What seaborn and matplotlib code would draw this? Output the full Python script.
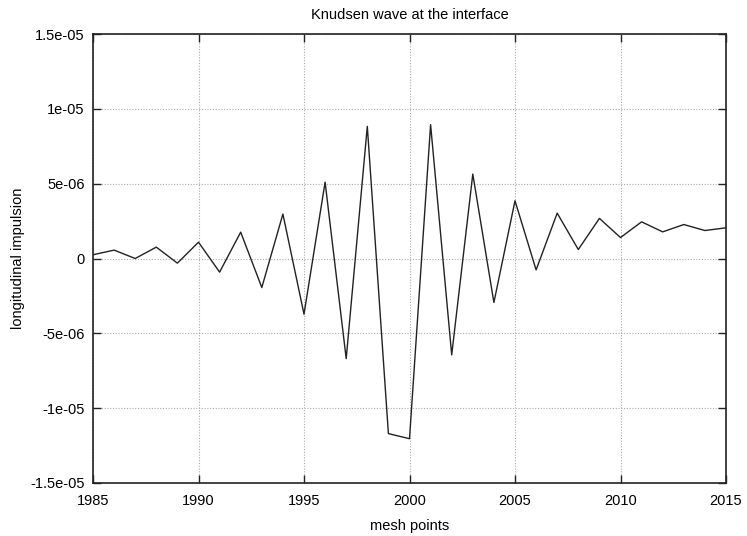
import matplotlib
matplotlib.use("Agg")
import matplotlib.pyplot as plt
import seaborn as sns
import pandas as pd
import numpy as np

mesh_points = list(range(1985, 2016))
impulsion = [0.25e-6, 0.56e-6, 0.0, 0.76e-6, -0.31e-6, 1.09e-6, -0.91e-6, 1.76e-6,
             -1.94e-6, 2.97e-6, -3.72e-6, 5.10e-6, -6.69e-6, 8.83e-6, -11.70e-6,
             -12.04e-6, 8.94e-6, -6.44e-6, 5.64e-6, -2.94e-6, 3.86e-6, -0.76e-6,
             3.03e-6, 0.60e-6, 2.68e-6, 1.40e-6, 2.45e-6, 1.78e-6, 2.27e-6, 1.87e-6, 2.05e-6]
x_ticks = [1985, 1990, 1995, 2000, 2005, 2010, 2015]
y_ticks = [-1.5e-05, -1e-05, -5e-06, 0, 5e-06, 1e-05, 1.5e-05]
y_tick_labels = ["-1.5e-05", "-1e-05", "-5e-06", "0", "5e-06", "1e-05", "1.5e-05"]

sns.set_theme(style="white")
plt.rcParams['font.family'] = ['Liberation Sans', 'DejaVu Sans']

df = pd.DataFrame({"mesh points": mesh_points, "longitudinal impulsion": impulsion})

fig = plt.figure(figsize=(7.47, 5.36), dpi=100)
ax = fig.add_axes([93/747, 1-483/536, 633/747, 449/536])
sns.lineplot(data=df, x="mesh points", y="longitudinal impulsion", ax=ax,
             color="#222222", linewidth=1.0)

ax.set_xlim(1985, 2015)
ax.set_ylim(-1.5e-05, 1.5e-05)
ax.set_xticks(x_ticks)
ax.set_xticklabels([str(t) for t in x_ticks])
ax.set_yticks(y_ticks)
ax.set_yticklabels(y_tick_labels)
ax.grid(True, color="#aaaaaa", linestyle=(0, (1, 1.5)), linewidth=0.8)
for s in ax.spines.values():
    s.set_color("#222222")
    s.set_linewidth(1.2)
ax.tick_params(direction="in", length=6, width=1, color="#222222",
               top=True, right=True, bottom=True, left=True,
               labelsize=10.5, labelcolor="black")
ax.tick_params(axis="x", pad=8)
ax.tick_params(axis="y", pad=6)
ax.set_xlabel("mesh points", fontsize=10.5, labelpad=8, color="black")
ax.set_ylabel("longitudinal impulsion", fontsize=10.5, labelpad=4, color="black")
ax.set_title("Knudsen wave at the interface", fontsize=10.5, pad=11, color="black")

fig.savefig("out.png", dpi=100)
